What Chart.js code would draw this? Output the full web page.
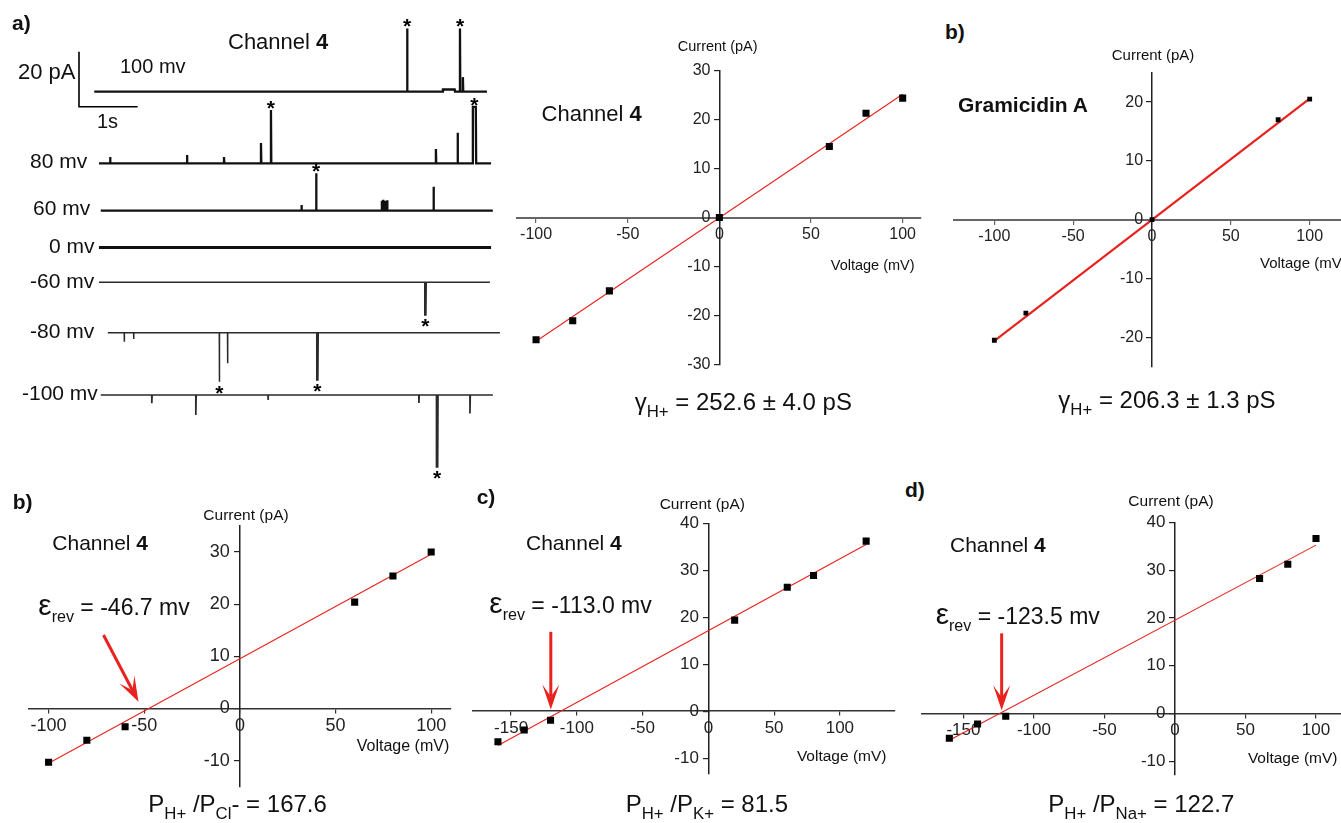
<!DOCTYPE html>
<html>
<head>
<meta charset="utf-8">
<script src="https://cdn.jsdelivr.net/npm/chart.js@4/dist/chart.umd.min.js"></script>
<style>
html, body { margin: 0; padding: 0; width: 1341px; height: 823px; overflow: hidden; background: #fff; }
body { position: relative; font-family: "Liberation Sans", Arial, sans-serif; color: #111; }
canvas { position: absolute; }
.t { position: absolute; white-space: nowrap; line-height: 1; }
.t sub { font-size: 0.7em; line-height: 0; vertical-align: -0.42em; }
.t .e { font-size: 1.3em; line-height: 0; }
</style>
</head>
<body>
<script>
// ---- recorded traces (a): time in s, current in pA relative to each baseline ----
const traceNames = ['100 mv', '80 mv', '60 mv', '0 mv', '-60 mv', '-80 mv', '-100 mv'];
const traceStart = [0.26, 0.34, 0.37, 0.34, 0.34, 0.49, 0.37];
const traceEnd   = [6.95, 7.02, 7.05, 7.02, 7.00, 7.17, 7.05];
// events: [time, amplitude, duration, starred]
const ev100  = [[5.59, 23.0, 0, 1], [6.20, 0.8, 0.2, 0], [6.49, 23.0, 0, 1], [6.54, 5.3, 0, 0]];
const ev80   = [[0.53, 2.3, 0, 0], [1.84, 3.0, 0, 0], [2.47, 2.3, 0, 0], [3.10, 7.4, 0, 0],
                [3.27, 19.4, 0, 1], [6.08, 5.2, 0, 0], [6.45, 11.1, 0, 0], [6.71, 20.5, 0.05, 1]];
const ev60   = [[3.79, 2.1, 0, 0], [4.04, 13.6, 0, 1], [5.16, 3.6, 0, 0], [5.18, 4.0, 0, 0],
                [5.21, 3.2, 0.03, 0], [5.25, 3.8, 0, 0], [6.04, 8.7, 0, 0]];
const ev0    = [];
const evM60  = [[5.89, -11.9, 0.02, 1]];
const evM80  = [[0.77, -3.3, 0, 0], [0.93, -2.3, 0, 0], [2.39, -17.8, 0, 1], [2.53, -11.1, 0, 0], [4.05, -17.2, 0.02, 1]];
const evM100 = [[1.24, -3.0, 0, 0], [1.99, -7.3, 0, 0], [3.22, -1.8, 0, 0], [5.79, -2.9, 0, 0],
                [6.09, -26.1, 0.02, 1], [6.66, -6.7, 0, 0]];
const traceEvents = [ev100, ev80, ev60, ev0, evM60, evM80, evM100];
const scaleBarPA = 20, scaleBarS = 1;

// ---- I/V data ----
const iv1V = [-100, -80, -60, 0, 60, 80, 100];
const iv1I = [-25.0, -21.1, -15.0, 0, 14.5, 21.3, 24.4];
const iv1Fit = [[-100, -25.3], [100, 25.2]];
const iv1XTicks = [-100, -50, 0, 50, 100];
const iv1YTicks = [-30, -20, -10, 0, 10, 20, 30];

const gramV = [-100, -80, 0, 80, 100];
const gramI = [-20.5, -15.9, 0, 17.0, 20.5];
const gramFit = [[-100, -20.6], [100, 20.6]];
const gramXTicks = [-100, -50, 0, 50, 100];
const gramYTicks = [-20, -10, 0, 10, 20];

const clV = [-100, -80, -60, 60, 80, 100];
const clI = [-10.3, -6.1, -3.5, 20.4, 25.4, 30.0];
const clFit = [[-100, -10.5], [100, 29.6]];
const clArrow = [[-71.3, 14.1], [-53, 1.3]];
const clXTicks = [-100, -50, 0, 50, 100];
const clYTicks = [-10, 0, 10, 20, 30];

const kV = [-160, -140, -120, 20, 60, 80, 120];
const kI = [-6.5, -4.0, -1.9, 19.4, 26.4, 28.9, 36.2];
const kFit = [[-160, -7.3], [120, 35.5]];
const kArrow = [[-119.8, 16.9], [-119.8, 0.4]];
const kXTicks = [-150, -100, -50, 0, 50, 100];
const kYTicks = [-10, 0, 10, 20, 30, 40];

const naV = [-160, -140, -120, 60, 80, 100];
const naI = [-5.2, -2.2, -0.6, 28.3, 31.3, 36.7];
const naFit = [[-160, -5.6], [100, 35.3]];
const naArrow = [[-122.9, 16.8], [-122.9, 0.7]];
const naXTicks = [-150, -100, -50, 0, 50, 100];
const naYTicks = [-10, 0, 10, 20, 30, 40];

// ---- layout ----
const FONT = '"Liberation Sans", Arial, sans-serif';
const RED = '#e8221e';

function addCanvas(left, top, w, h) {
  const c = document.createElement('canvas');
  c.width = w; c.height = h;
  c.style.left = left + 'px'; c.style.top = top + 'px';
  document.body.appendChild(c);
  return c;
}

function label(html, x, base, size, align) {
  const d = document.createElement('div');
  d.className = 't';
  d.innerHTML = html;
  d.style.fontSize = size + 'px';
  d.style.left = x + 'px';
  d.style.top = (base - 0.8465 * size) + 'px';
  if (align === 'center') d.style.transform = 'translateX(-50%)';
  document.body.appendChild(d);
}

// traces chart
const trW = 510, trH = 480;
const pxPerS = 58.7, pxPerPA = 2.75, barX = 79, barBottomY = 106.7;
const traceRowY = [91.7, 163.3, 210.7, 247.5, 282.3, 332.7, 395];
const traceWidth = [2.3, 2.3, 2.3, 3, 1.5, 1.5, 1.7];
const traceOffset = traceRowY.map(y => -y / pxPerPA);

function tracePoints(k) {
  const pts = [{x: traceStart[k], y: 0}];
  traceEvents[k].forEach(([t, a, w]) => {
    pts.push({x: t, y: 0}, {x: t, y: a});
    if (w > 0) pts.push({x: t + w, y: a});
    pts.push({x: t + w + 0.006, y: 0});
  });
  pts.push({x: traceEnd[k], y: 0});
  return pts.map(p => ({x: p.x, y: p.y + traceOffset[k]}));
}

const starPlugin = {
  id: 'stars',
  afterDatasetsDraw(chart) {
    const ctx = chart.ctx, xs = chart.scales.x, ys = chart.scales.y;
    ctx.save();
    ctx.fillStyle = '#000';
    ctx.font = 'bold 21px ' + FONT;
    ctx.textAlign = 'center';
    ctx.textBaseline = 'alphabetic';
    traceEvents.forEach((evs, k) => evs.forEach(e => {
      if (!e[3]) return;
      const px = xs.getPixelForValue(e[0] + e[2] / 2);
      const py = ys.getPixelForValue(traceOffset[k] + e[1]);
      const yc = e[1] > 0 ? py - 7 : py + 6;
      ctx.fillText('*', px, yc + 12);
    }));
    ctx.restore();
  }
};

const barBase = -barBottomY / pxPerPA;
new Chart(addCanvas(0, 0, trW, trH), {
  type: 'scatter',
  data: {
    datasets: traceNames.map((n, k) => ({
      label: n, data: tracePoints(k), showLine: true, pointRadius: 0,
      borderColor: k < 4 ? '#111' : '#2a2a2a', borderWidth: traceWidth[k], clip: false
    })).concat([{
      label: 'scale bar',
      data: [{x: 0, y: barBase + scaleBarPA}, {x: 0, y: barBase}, {x: scaleBarS, y: barBase}],
      showLine: true, pointRadius: 0, borderColor: '#000', borderWidth: 1.6, clip: false
    }])
  },
  options: {
    responsive: false, animation: false, events: [],
    layout: {padding: 0},
    plugins: {legend: {display: false}, tooltip: {enabled: false}},
    scales: {
      x: {type: 'linear', display: false, min: -barX / pxPerS, max: (trW - barX) / pxPerS},
      y: {type: 'linear', display: false, min: -trH / pxPerPA, max: 0}
    }
  },
  plugins: [starPlugin]
});

// arrow plugin for reversal potential
const arrowPlugin = {
  id: 'revArrow',
  afterDatasetsDraw(chart, args, opts) {
    if (!opts || !opts.from) return;
    const xs = chart.scales.x, ys = chart.scales.y, ctx = chart.ctx;
    const x1 = xs.getPixelForValue(opts.from[0]), y1 = ys.getPixelForValue(opts.from[1]);
    const x2 = xs.getPixelForValue(opts.to[0]), y2 = ys.getPixelForValue(opts.to[1]);
    const a = Math.atan2(y2 - y1, x2 - x1), c = Math.cos(a), s = Math.sin(a);
    const L = 25, W = 8.5, N = 13;
    ctx.save();
    ctx.strokeStyle = ctx.fillStyle = RED;
    ctx.lineWidth = 3;
    ctx.beginPath(); ctx.moveTo(x1, y1); ctx.lineTo(x2 - N * c, y2 - N * s); ctx.stroke();
    ctx.beginPath();
    ctx.moveTo(x2, y2);
    ctx.lineTo(x2 - L * c - W * s, y2 - L * s + W * c);
    ctx.lineTo(x2 - N * c, y2 - N * s);
    ctx.lineTo(x2 - L * c + W * s, y2 - L * s - W * c);
    ctx.closePath(); ctx.fill();
    ctx.restore();
  }
};

// area = chart area in page px [left, top, right, bottom]
const panels = [
  {area: [517, 70.7, 921, 364.3], x: [-110.4, 110], y: [-30, 30], font: 16, v: iv1V, i: iv1I, fit: iv1Fit,
   xt: iv1XTicks, yt: iv1YTicks, pt: 5, fitW: 1.1, xAxis: '#666', xW: 2},
  {area: [954.3, 72.7, 1349.1, 366.7], x: [-125.4, 125], y: [-25, 25], font: 16, v: gramV, i: gramI, fit: gramFit,
   xt: gramXTicks, yt: gramYTicks, pt: 3.4, fitW: 2.2, xAxis: '#666', xW: 2},
  {area: [28.3, 526, 450.7, 786.7], x: [-110.6, 110.2], y: [-15, 35], font: 18, v: clV, i: clI, fit: clFit,
   xt: clXTicks, yt: clYTicks, pt: 5, fitW: 1.1, xAxis: '#333', xW: 1.6, arrow: clArrow},
  {area: [472.7, 523.3, 894.3, 773.3], x: [-179.2, 141.4], y: [-13.2, 40], font: 17, v: kV, i: kI, fit: kFit,
   xt: kXTicks, yt: kYTicks, pt: 5, fitW: 1.1, xAxis: '#333', xW: 1.6, arrow: kArrow},
  {area: [921.7, 522.7, 1344.2, 775], x: [-179.6, 120], y: [-12.9, 40], font: 17, v: naV, i: naI, fit: naFit,
   xt: naXTicks, yt: naYTicks, pt: 5, fitW: 1.1, xAxis: '#333', xW: 1.6, arrow: naArrow}
];

panels.forEach(p => {
  const [l, t, r, b] = p.area;
  const cl = Math.floor(l) - 20, ct = Math.floor(t) - 20;
  const cw = Math.ceil(r) + 20 - cl, ch = Math.ceil(b) + 20 - ct;
  const tickFont = {family: FONT, size: p.font};
  new Chart(addCanvas(cl, ct, cw, ch), {
    type: 'scatter',
    data: {
      datasets: [
        {data: p.fit.map(q => ({x: q[0], y: q[1]})), showLine: true, pointRadius: 0,
         borderColor: RED, borderWidth: p.fitW, order: 2},
        {data: p.v.map((x, k) => ({x: x, y: p.i[k]})), pointStyle: 'rect', pointRadius: p.pt,
         backgroundColor: '#000', borderColor: '#000', borderWidth: 0, order: 1}
      ]
    },
    options: {
      responsive: false, animation: false, events: [],
      layout: {padding: {left: l - cl, top: t - ct, right: cl + cw - r, bottom: ct + ch - b}},
      plugins: {
        legend: {display: false}, tooltip: {enabled: false},
        revArrow: p.arrow ? {from: p.arrow[0], to: p.arrow[1]} : {}
      },
      scales: {
        x: {
          type: 'linear', position: {y: 0}, min: p.x[0], max: p.x[1],
          afterFit: s => { s.height = 0; },
          afterBuildTicks: s => { s.ticks = p.xt.map(v => ({value: v})); },
          ticks: {font: tickFont, color: '#222', padding: 3, maxRotation: 0, autoSkip: false},
          grid: {drawOnChartArea: false, drawTicks: true, tickLength: 4, color: p.xAxis, lineWidth: 1.2},
          border: {display: true, color: p.xAxis, width: p.xW}
        },
        y: {
          type: 'linear', position: {x: 0}, min: p.y[0], max: p.y[1],
          afterFit: s => { s.width = 0; },
          afterBuildTicks: s => { s.ticks = p.yt.map(v => ({value: v})); },
          ticks: {font: tickFont, color: '#222', autoSkip: false, callback: v => v + '  '},
          grid: {drawOnChartArea: false, drawTicks: true, tickLength: 5, color: '#222', lineWidth: 1.2},
          border: {display: true, color: '#222', width: 1.5}
        }
      }
    },
    plugins: [arrowPlugin]
  });
});

// ---- texts ----
const texts = [
  ['<b>a)</b>', 12, 30, 21],
  ['Channel <b>4</b>', 228, 50, 22],
  ['20 pA', 18, 80, 22],
  ['100 mv', 120, 72.7, 20],
  ['1s', 97, 128, 20],
  ['80 mv', 30, 167.7, 21],
  ['60 mv', 33, 215, 21],
  ['0 mv', 49, 253, 21],
  ['-60 mv', 30, 288, 21],
  ['-80 mv', 30, 338, 21],
  ['-100 mv', 22, 400, 21],

  ['Current (pA)', 717.7, 51.5, 14.5, 'center'],
  ['Voltage (mV)', 872.7, 270, 14.5, 'center'],
  ['Channel <b>4</b>', 591.7, 121.7, 22, 'center'],
  ['γ<sub>H+</sub> = 252.6 ± 4.0 pS', 743.3, 410, 24, 'center'],

  ['<b>b)</b>', 945, 38.5, 21],
  ['Current (pA)', 1153, 59.5, 15, 'center'],
  ['Voltage (mV)', 1260, 267.5, 15],
  ['<b>Gramicidin A</b>', 958, 111.7, 21],
  ['γ<sub>H+</sub> = 206.3 ± 1.3 pS', 1058.3, 408, 24],

  ['<b>b)</b>', 12.7, 509, 21],
  ['Channel <b>4</b>', 52.3, 550, 21],
  ['Current (pA)', 246, 520, 15.5, 'center'],
  ['Voltage (mV)', 403, 751.5, 16, 'center'],
  ['<span class="e">ε</span><sub>rev</sub> = -46.7 mv', 38.3, 615, 23],
  ['P<sub>H+</sub> /P<sub>Cl</sub>- = 167.6', 148.3, 812, 24],

  ['<b>c)</b>', 476.7, 504, 21],
  ['Channel <b>4</b>', 526, 550, 21],
  ['Current (pA)', 702.3, 509.5, 15.5, 'center'],
  ['Voltage (mV)', 841.7, 760.7, 15.5, 'center'],
  ['<span class="e">ε</span><sub>rev</sub> = -113.0 mv', 489.3, 613.3, 23],
  ['P<sub>H+</sub> /P<sub>K+</sub> = 81.5', 625.7, 812, 24],

  ['<b>d)</b>', 905, 497, 21],
  ['Channel <b>4</b>', 950, 551.7, 21],
  ['Current (pA)', 1171, 506.5, 15.5, 'center'],
  ['Voltage (mV)', 1292.7, 763.5, 15.5, 'center'],
  ['<span class="e">ε</span><sub>rev</sub> = -123.5 mv', 935.7, 624, 23],
  ['P<sub>H+</sub> /P<sub>Na+</sub> = 122.7', 1048.3, 812, 24]
];
texts.forEach(tx => label(tx[0], tx[1], tx[2], tx[3], tx[4]));
</script>
</body>
</html>
